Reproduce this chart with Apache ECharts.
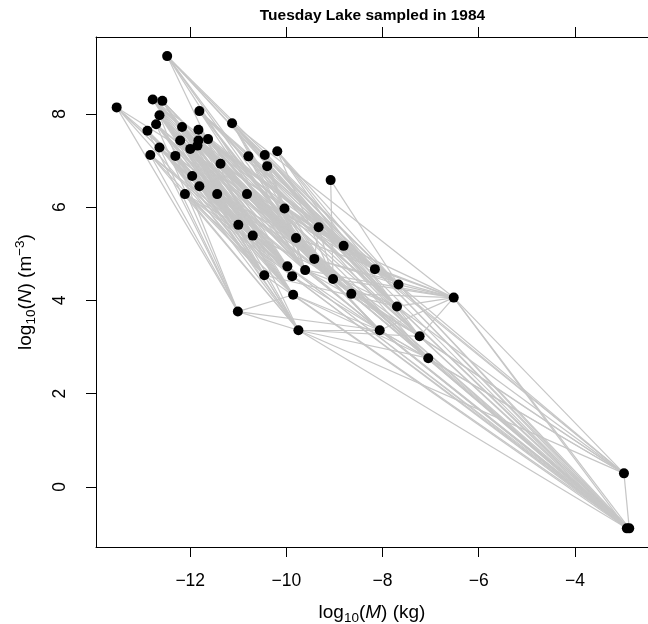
<!DOCTYPE html>
<html><head><meta charset="utf-8">
<script src="https://cdn.jsdelivr.net/npm/echarts@6/dist/echarts.min.js"></script>
<style>html,body{margin:0;padding:0;background:#fff}#c{width:648px;height:624px}</style>
</head><body><div id="c"></div>
<script>
// log10(M) (kg) for each species (1-based ordering used by the link lists)
const nodeX = [-12.48,-13.53,-12.78,-12.58,-12.64,-11.81,-12.71,-12.89,-12.17,-11.83,
               -12.21,-11.83,-11.63,-11.85,-12.00,-12.64,-12.83,-12.31,-11.13,-10.79,
               -10.45,-10.19,-10.40,-11.37,-9.08,-11.96,-11.81,-12.11,-11.44,-10.82,
               -10.04,-11.00,-9.33,-10.70,-9.80,-8.81,-9.42,-9.98,-9.61,-9.88,
               -10.46,-9.03,-8.16,-7.67,-8.65,-9.86,-7.70,-11.01,-9.75,-8.06,
               -6.52,-7.23,-7.05,-2.98,-2.87,-2.92];
// log10(N) (m^-3)
const nodeY = [9.24,8.14,8.31,8.28,7.97,8.06,7.78,7.64,7.72,7.66,
               7.43,7.43,7.46,7.32,7.25,7.28,7.12,7.10,7.80,7.09,
               7.12,7.20,6.88,6.93,6.58,6.67,6.45,6.28,6.28,6.28,
               5.97,5.62,5.57,5.39,5.34,5.17,4.89,4.73,4.65,4.52,
               4.54,4.46,4.67,4.34,4.14,4.12,3.87,3.76,3.36,3.36,
               4.06,3.23,2.76,0.29,-0.89,-0.89];
// trophic links: consumer (1-based) and its resources (1-based)
const consumerIds = [32,34,35,36,37,38,39,40,41,42,43,44,45,46,47,48,49,50,52,53,51,54,55,56];
const dietLists = [
  [2,3,4,5,7,8,9,15,16,17,28],
  [1,3,4,5,7,9,11,14,15,18,26,27],
  [1,6,9,10,11,12,14,15,19,20,21,24,29],
  [1,6,13,19,20,21,22,23,24,30,31],
  [3,4,6,7,9,10,13,14,18,19,24,29,30,33],
  [3,5,7,8,9,10,11,12,15,16,18,26,27,28],
  [1,2,3,5,6,10,12,13,15,20,21,23,29,31],
  [2,4,7,8,9,11,14,15,16,17,18,27,28],
  [2,3,5,7,8,9,11,16,17,26,28],
  [1,4,6,10,12,13,19,22,24,25,30,31,33,35],
  [1,6,19,20,21,22,23,31,33,36],
  [1,2,3,6,10,12,13,19,22,24,25,30,33,37],
  [3,4,5,7,9,10,11,14,15,16,18,29,30,35],
  [5,7,9,12,15,16,26,27,28,32,48],
  [1,6,10,13,20,21,23,31,33,34,39,41],
  [2,5,7,8,16,17],
  [8,11,17,18,26,28,32,34,41,48],
  [4,9,12,14,24,29,30,38,40,46,48,49],
  [3,6,13,19,22,33,37,39,45,49],
  [10,14,20,24,30,42,45,46,49,50],
  [19,35,36,37,39,42,43,44,45,47,50,52],
  [36,42,43,44,47,49,50,51,52,53],
  [35,37,38,39,40,42,43,44,45,46,47,50,51,52,53,54],
  [35,36,38,39,40,41,43,44,45,47,49,50,51,52,53]
];
const xTicks = [-12,-10,-8,-6,-4];
const yTicks = [0,2,4,6,8];
const titleText = 'Tuesday Lake sampled in 1984';

const FONT = "'Liberation Sans', Arial, Helvetica, sans-serif";
const points = nodeX.map((x, i) => [x, nodeY[i]]);
const linkData = [];
consumerIds.forEach((c, k) => {
  dietLists[k].forEach(r => {
    linkData.push({ coords: [points[r - 1], points[c - 1]] });
  });
});
const fmt = v => (v < 0 ? '\u2212' + Math.abs(v) : String(v));

const chart = echarts.init(document.getElementById('c'), null, { renderer: 'canvas' });
chart.setOption({
  animation: false,
  backgroundColor: '#fff',
  title: {
    text: titleText, left: 372.5, top: 8, textAlign: 'center', padding: 0,
    textStyle: { fontFamily: FONT, fontSize: 15.5, fontWeight: 'bold', color: '#000' }
  },
  grid: { left: 96, top: 37, right: 0, bottom: 77, outerBoundsMode: 'none', containLabel: false },
  xAxis: [{
    type: 'value', position: 'bottom', min: -13.96, max: -2.48,
    axisLine: { show: true, onZero: false, lineStyle: { color: '#000', width: 1 } },
    axisTick: { show: true, length: 10, customValues: xTicks, lineStyle: { color: '#000', width: 1 } },
    axisLabel: { customValues: xTicks, formatter: fmt, fontSize: 17.5, color: '#000', fontFamily: FONT, margin: 25 },
    splitLine: { show: false },
    name: '{a|log}{s|10}{a|(}{i|M}{a|) (kg)}',
    nameLocation: 'middle', nameGap: 54,
    nameTextStyle: {
      fontFamily: FONT, fontSize: 19, color: '#000',
      rich: {
        a: { fontFamily: FONT, fontSize: 19, color: '#000' },
        i: { fontFamily: FONT, fontSize: 19, color: '#000', fontStyle: 'italic' },
        s: { fontFamily: FONT, fontSize: 13.5, color: '#000', padding: [10, 0, 0, 0] }
      }
    }
  }, {
    type: 'value', position: 'top', min: -13.96, max: -2.48,
    axisLine: { show: true, onZero: false, lineStyle: { color: '#000', width: 1 } },
    axisTick: { show: true, length: 10, customValues: xTicks, lineStyle: { color: '#000', width: 1 } },
    axisLabel: { show: false },
    splitLine: { show: false }
  }],
  yAxis: {
    type: 'value', min: -1.29, max: 9.65,
    axisLine: { show: true, onZero: false, lineStyle: { color: '#000', width: 1 } },
    axisTick: { show: true, length: 10, customValues: yTicks, lineStyle: { color: '#000', width: 1 } },
    axisLabel: { customValues: yTicks, formatter: fmt, rotate: 90, fontSize: 17.5, color: '#000', fontFamily: FONT, margin: 27 },
    splitLine: { show: false },
    name: '{a|log}{s|10}{a|(}{i|N}{a|) (m}{p|\u22123}{a|)}',
    nameLocation: 'middle', nameRotate: 90, nameGap: 57,
    nameTextStyle: {
      fontFamily: FONT, fontSize: 19, color: '#000',
      rich: {
        a: { fontFamily: FONT, fontSize: 19, color: '#000' },
        i: { fontFamily: FONT, fontSize: 19, color: '#000', fontStyle: 'italic' },
        s: { fontFamily: FONT, fontSize: 13.5, color: '#000', padding: [10, 0, 0, 0] },
        p: { fontFamily: FONT, fontSize: 13.5, color: '#000', padding: [0, 0, 12, 0] }
      }
    }
  },
  series: [{
    type: 'lines', coordinateSystem: 'cartesian2d', xAxisIndex: 0, yAxisIndex: 0,
    polyline: false, silent: true, z: 2,
    lineStyle: { color: '#c6c6c6', width: 1.2, opacity: 1, curveness: 0 },
    data: linkData
  }, {
    type: 'scatter', xAxisIndex: 0, yAxisIndex: 0, z: 3,
    symbol: 'circle', symbolSize: 10,
    itemStyle: { color: '#000', opacity: 1 },
    data: points
  }]
});
</script>
</body></html>
